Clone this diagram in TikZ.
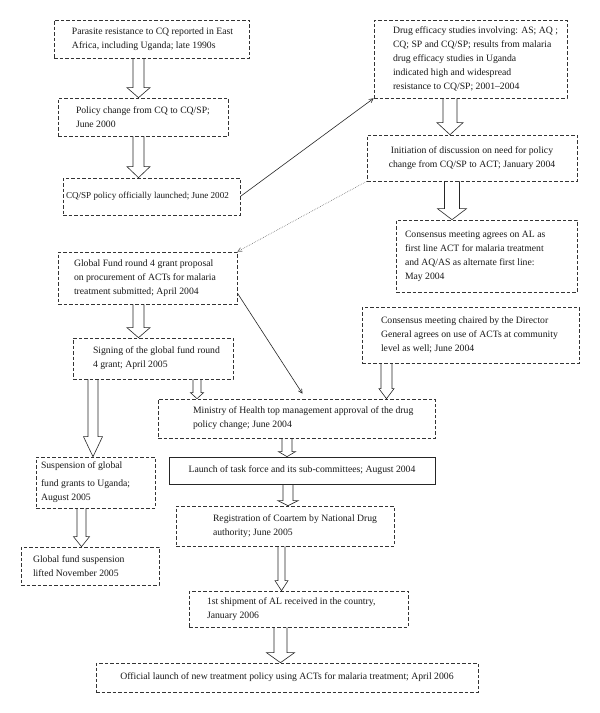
\documentclass[tikz,border=0pt]{standalone}
\usepackage{fontspec}
\setmainfont{Liberation Serif}
\usetikzlibrary{arrows.meta,calc}
\tikzset{
  boxbase/.style={inner xsep=2pt, inner ysep=0pt, font=\fontsize{9.7}{14}\selectfont, text=black!90},
  dbox/.style={boxbase, draw=black!80, line width=0.65pt, dash pattern=on 3.5pt off 2pt},
  sbox/.style={boxbase, draw=black!85, line width=0.7pt},
  blk/.style={draw=black!85, line width=0.6pt, line join=miter},
  thinarr/.style={draw=black!85, line width=0.6pt, -{Straight Barb[length=4pt,width=4pt]}},
  dotarr/.style={draw=black!60, line width=0.6pt, dash pattern=on 0.6pt off 1.2pt, -{Straight Barb[length=4pt,width=4pt]}}
}
% name, x1, x2, y1, y2, left margin, style, text
\newcommand\mybox[8]{%
  \pgfmathsetmacro\mbw{#3-#2}%
  \pgfmathsetmacro\mbh{#5-#4}%
  \pgfmathsetmacro\mbt{#3-#2-4}%
  \node[#7, minimum width=\mbw pt, minimum height=\mbh pt]
    (#1) at ({(#2+#3)/2},{(#4+#5)/2})
    {\parbox[c]{\mbt pt}{\raggedright\leftskip=#6pt\relax #8}};}
% from, to, x, shaft half, head half, head length
\newcommand\barrow[6]{%
  \draw[blk] let \p1=(#1.south), \p2=(#2.north) in
    ({#3pt-#4pt},\y1) -- ({#3pt-#4pt},{\y2+#6pt}) -- ({#3pt-#5pt},{\y2+#6pt})
    -- ({#3pt},\y2) -- ({#3pt+#5pt},{\y2+#6pt}) -- ({#3pt+#4pt},{\y2+#6pt})
    -- ({#3pt+#4pt},\y1);}
\begin{document}
\begin{tikzpicture}[x=1pt,y=-1pt]
\useasboundingbox[fill=white] (0,0) rectangle (600,713);

\mybox{para}{54}{249}{20}{58}{16}{dbox}{Parasite resistance to CQ reported in East\\Africa, including Uganda; late 1990s}
\mybox{pchg}{58}{228}{98}{136}{16}{dbox}{Policy change from CQ to CQ/SP;\\June 2000}
\mybox{cqsp}{63}{240}{178}{215}{1}{dbox,font=\fontsize{9.1}{14}\selectfont}{CQ/SP policy officially launched; June 2002}
\mybox{drug}{374}{567}{20}{98}{17}{dbox}{Drug efficacy studies involving: AS; AQ ;\\CQ; SP and CQ/SP; results from malaria\\drug efficacy studies in Uganda\\indicated high and widespread\\resistance to CQ/SP; 2001–2004}
\mybox{init}{367}{577}{135}{181}{0}{dbox}{\centering Initiation of discussion on need for policy\\change from CQ/SP to ACT; January 2004}
\mybox{al}{396}{577}{220}{292}{7}{dbox}{Consensus meeting agrees on AL as\\first line ACT for malaria treatment\\and AQ/AS as alternate first line:\\May 2004}
\mybox{dg}{362}{579}{307}{363}{17}{dbox}{Consensus meeting chaired by the Director\\General agrees on use of ACTs at community\\level as well; June 2004}
\mybox{gf}{58}{237}{252}{304}{14}{dbox}{Global Fund round 4 grant proposal\\on procurement of ACTs for malaria\\treatment submitted; April 2004}
\mybox{sign}{73}{233}{338}{379}{18}{dbox}{Signing of the global fund round\\4 grant; April 2005}
\mybox{min}{158}{435}{399}{438}{33}{dbox}{Ministry of Health top management approval of the drug\\policy change; June 2004}
\mybox{task}{169}{435}{457}{484}{0}{sbox}{\centering Launch of task force and its sub-committees; August 2004}
\mybox{reg}{176}{394}{506}{546}{35}{dbox}{Registration of Coartem by National Drug\\authority; June 2005}
\mybox{ship}{189}{408}{591}{627}{16}{dbox}{1st shipment of AL received in the country,\\January 2006}
\mybox{susp}{36}{155}{457}{508}{3}{dbox}{Suspension of global\\[4pt]fund grants to Uganda;\\August 2005}
\mybox{lift}{21}{159}{547}{585}{10}{dbox}{Global fund suspension\\lifted November 2005}
\mybox{off}{96}{478}{663}{692}{0}{dbox}{\centering Official launch of new treatment policy using ACTs for malaria treatment; April 2006}

\barrow{para}{pchg}{138.5}{5.5}{11.5}{10}
\barrow{pchg}{cqsp}{138.5}{5.5}{11.5}{11}
\barrow{drug}{init}{450}{7}{13}{12}
\barrow{init}{al}{452}{7.5}{14.5}{11}
\barrow{gf}{sign}{138.5}{5.5}{11.5}{10}
\barrow{sign}{min}{197}{4}{6.5}{6}
\barrow{sign}{susp}{93}{5}{9.5}{20}
\barrow{dg}{min}{386.5}{5.5}{7.5}{10}
\barrow{susp}{lift}{81.5}{4.5}{8}{10}
\barrow{min}{task}{287}{5}{8.5}{5}
\barrow{task}{reg}{288}{5}{10}{5}
\barrow{reg}{ship}{281.5}{3.5}{6.5}{10}
\barrow{ship}{off}{280.5}{6.5}{14}{10}

\draw[thinarr] (cqsp.east) -- (drug.south west);
\draw[dotarr] (init.south west) -- (gf.north east);
\draw[thinarr] ([yshift=-15pt]gf.east) -- ([xshift=6pt,yshift=5pt]min.north);
\end{tikzpicture}
\end{document}
